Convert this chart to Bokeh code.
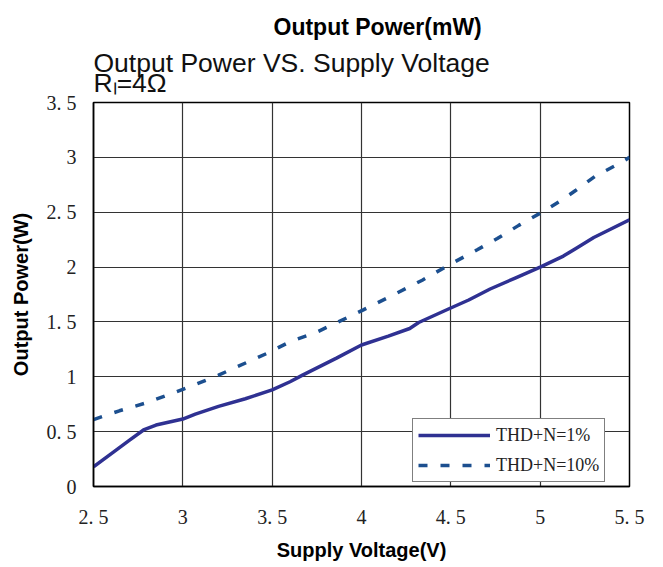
from bokeh.plotting import figure
from bokeh.models import Range1d, FixedTicker, Legend, LegendItem, Title
from bokeh.embed import file_html
from bokeh.resources import INLINE

# ---- data ----
v_thd1 = [2.5, 2.6, 2.7, 2.78, 2.85, 3.0, 3.07, 3.2, 3.35, 3.5, 3.6, 3.67, 3.86, 4.0,
          4.15, 4.27, 4.32, 4.49, 4.6, 4.72, 4.86, 5.0, 5.13, 5.2, 5.3, 5.5]
p_thd1 = [0.18, 0.30, 0.42, 0.515, 0.56, 0.615, 0.66, 0.73, 0.80, 0.88, 0.955, 1.015, 1.17, 1.29,
          1.37, 1.44, 1.495, 1.62, 1.70, 1.80, 1.90, 2.0, 2.1, 2.17, 2.27, 2.43]

v_thd10 = [2.5, 2.645, 2.79, 3.0, 3.2, 3.48, 3.6, 3.74, 3.87, 4.01, 4.17, 4.34, 4.49,
           4.65, 4.76, 4.88, 5.01, 5.13, 5.2, 5.31, 5.45, 5.5]
p_thd10 = [0.61, 0.69, 0.76, 0.885, 1.015, 1.22, 1.32, 1.40, 1.50, 1.61, 1.74, 1.88, 2.02,
           2.16, 2.26, 2.38, 2.5, 2.62, 2.7, 2.83, 2.95, 3.0]

x_ticks = [2.5, 3.0, 3.5, 4.0, 4.5, 5.0, 5.5]
x_tick_labels = ["2. 5", "3", "3. 5", "4", "4. 5", "5", "5. 5"]
y_ticks = [0, 0.5, 1.0, 1.5, 2.0, 2.5, 3.0, 3.5]
y_tick_labels = ["0", "0. 5", "1", "1. 5", "2", "2. 5", "3", "3. 5"]

series_names = ["THD+N=1%", "THD+N=10%"]
title_text = "Output Power(mW)"
subtitle_text = "Output Power VS. Supply Voltage"
load_text = "R\u2097=4\u03a9"
x_title = "Supply Voltage(V)"
y_title = "Output Power(W)"

SANS = "Liberation Sans"
SERIF = "Liberation Serif"

p = figure(width=655, height=563, output_backend="svg", toolbar_location=None,
           x_range=Range1d(2.5, 5.5), y_range=Range1d(0, 3.5),
           min_border_left=93, min_border_right=26, min_border_top=102, min_border_bottom=76)

p.background_fill_color = "white"
p.border_fill_color = "white"
p.outline_line_color = "black"
p.outline_line_width = 1.5

p.xaxis.ticker = FixedTicker(ticks=x_ticks)
p.yaxis.ticker = FixedTicker(ticks=y_ticks)
p.xaxis.major_label_overrides = {t: l for t, l in zip(x_ticks, x_tick_labels)}
p.yaxis.major_label_overrides = {t: l for t, l in zip(y_ticks, y_tick_labels)}

for ax in (p.xaxis, p.yaxis):
    ax.axis_line_color = "black"
    ax.axis_line_width = 1.5
    ax.major_tick_line_color = None
    ax.minor_tick_line_color = None
    ax.major_tick_out = 0
    ax.major_tick_in = 0
    ax.major_label_text_font = SERIF
    ax.major_label_text_font_size = "20px"
    ax.major_label_text_color = "#222222"
    ax.axis_label_text_font = SANS
    ax.axis_label_text_font_style = "bold"
    ax.axis_label_text_font_size = "20px"
    ax.axis_label_text_color = "black"

p.xaxis.major_label_standoff = 19
p.yaxis.major_label_standoff = 17
p.xaxis.axis_label = x_title
p.yaxis.axis_label = y_title
p.xaxis.axis_label_standoff = 8
p.yaxis.axis_label_standoff = 12

p.xgrid.grid_line_color = "#333333"
p.ygrid.grid_line_color = "#333333"
p.xgrid.grid_line_width = 1.2
p.ygrid.grid_line_width = 1.2

r1 = p.line(v_thd1, p_thd1, line_color="#2f3192", line_width=3.5)
r2 = p.line(v_thd10, p_thd10, line_color="#1c4f8f", line_width=3.5, line_dash="9 13")

legend = Legend(items=[LegendItem(label=series_names[0], renderers=[r1]),
                       LegendItem(label=series_names[1], renderers=[r2])],
                location=(319, 4), orientation="vertical")
legend.border_line_color = "black"
legend.border_line_width = 1.5
legend.background_fill_color = "white"
legend.background_fill_alpha = 1.0
legend.label_text_font = SERIF
legend.label_text_font_size = "18px"
legend.label_text_color = "#222222"
legend.glyph_width = 72
legend.glyph_height = 22
legend.label_height = 22
legend.label_standoff = 6
legend.spacing = 8
legend.padding = 5
legend.margin = 0
p.add_layout(legend, "center")

# ---- titles: p.title is outermost; the two-line subtitle sits next to the frame ----
p.title.text = title_text
p.title.align = "left"
p.title.offset = 180
p.title.text_font = SANS
p.title.text_font_style = "bold"
p.title.text_font_size = "23px"
p.title.text_color = "black"
p.title.standoff = 4

p.add_layout(Title(text=subtitle_text + "\n" + load_text, align="left", text_font=SANS,
                   text_font_style="normal", text_font_size="26.5px",
                   text_line_height=0.676, text_color="#111111", standoff=9), "above")

open("out.html", "w").write(file_html(p, INLINE))
